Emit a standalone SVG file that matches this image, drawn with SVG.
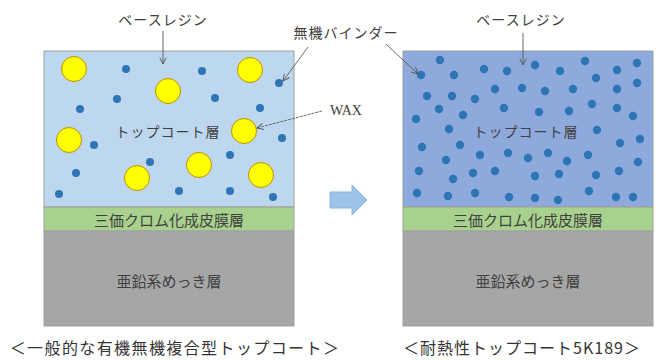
<svg xmlns="http://www.w3.org/2000/svg" width="659" height="360" viewBox="0 0 659 360">
<style>
.jp{font-family:"Noto Sans CJK JP","Noto Sans",sans-serif;fill:#404040;text-anchor:middle;dominant-baseline:central}
.lbl{font-size:14px;letter-spacing:1px}
.lay{font-size:15px}
.cap{font-size:16px;fill:#333}
.wax{font-family:"Liberation Serif",serif;font-size:14px;fill:#404040;text-anchor:middle;dominant-baseline:central}
.frame{stroke:#a0a0a0;stroke-width:1}
.bd{fill:#2E75B6}
.wx{fill:#FFFF00;stroke:#BF9000;stroke-width:1}
.ln{stroke:#595959;stroke-width:0.9;fill:none;marker-end:url(#ah)}
</style>
<defs>
<marker id="ah" viewBox="0 0 10 10" refX="9" refY="5" markerWidth="8" markerHeight="8" markerUnits="userSpaceOnUse" orient="auto">
<path d="M1,1 L9,5 L1,9" fill="none" stroke="#595959" stroke-width="1.2"/>
</marker>
</defs>
<rect width="659" height="360" fill="#fff"/>

<g id="left-stack">
<rect id="left-topcoat" class="frame" x="44" y="51" width="250" height="156" fill="#BDD7EE"/>
<rect id="left-chromate" class="frame" x="44" y="207" width="250" height="24" fill="#A9D18E"/>
<rect id="left-zinc" class="frame" x="44" y="231" width="250" height="95" fill="#A6A6A6"/>
<g id="left-wax">
<circle class="wx" cx="74" cy="69" r="12.5"/>
<circle class="wx" cx="168" cy="91" r="12.5"/>
<circle class="wx" cx="250" cy="70" r="12.5"/>
<circle class="wx" cx="69" cy="140" r="12.5"/>
<circle class="wx" cx="244" cy="131" r="12.5"/>
<circle class="wx" cx="199" cy="165" r="12.5"/>
<circle class="wx" cx="137" cy="178" r="12.5"/>
<circle class="wx" cx="261" cy="175" r="12.5"/>
</g>
<g id="left-binder">
<circle class="bd" cx="126" cy="69" r="4"/>
<circle class="bd" cx="202" cy="71" r="4"/>
<circle class="bd" cx="279" cy="83" r="4"/>
<circle class="bd" cx="117" cy="99" r="4"/>
<circle class="bd" cx="80" cy="109" r="4"/>
<circle class="bd" cx="215" cy="98" r="4"/>
<circle class="bd" cx="260" cy="108" r="4"/>
<circle class="bd" cx="94" cy="145" r="4"/>
<circle class="bd" cx="282" cy="138" r="4"/>
<circle class="bd" cx="150" cy="162" r="4"/>
<circle class="bd" cx="230" cy="155" r="4"/>
<circle class="bd" cx="76" cy="173" r="4"/>
<circle class="bd" cx="59" cy="194" r="4"/>
<circle class="bd" cx="179" cy="191" r="4"/>
<circle class="bd" cx="230" cy="191" r="4"/>
<circle class="bd" cx="273" cy="197" r="4"/>
</g>
<text class="jp lbl" x="168" y="131">トップコート層</text>
<text class="jp lay" x="169" y="219">三価クロム化成皮膜層</text>
<text class="jp lay" x="169" y="280">亜鉛系めっき層</text>
</g>

<g id="right-stack">
<rect id="right-topcoat" class="frame" x="403" y="51" width="250" height="156" fill="#8EA9DB"/>
<rect id="right-chromate" class="frame" x="403" y="207" width="250" height="24" fill="#A9D18E"/>
<rect id="right-zinc" class="frame" x="403" y="231" width="250" height="95" fill="#A6A6A6"/>
<g id="right-binder">
<circle class="bd" cx="440" cy="60" r="4.2"/>
<circle class="bd" cx="421" cy="75" r="4.2"/>
<circle class="bd" cx="454" cy="75" r="4.2"/>
<circle class="bd" cx="484" cy="69" r="4.2"/>
<circle class="bd" cx="507" cy="71" r="4.2"/>
<circle class="bd" cx="535" cy="65" r="4.2"/>
<circle class="bd" cx="560" cy="71" r="4.2"/>
<circle class="bd" cx="585" cy="61" r="4.2"/>
<circle class="bd" cx="596" cy="78" r="4.2"/>
<circle class="bd" cx="617" cy="70" r="4.2"/>
<circle class="bd" cx="637" cy="63" r="4.2"/>
<circle class="bd" cx="637" cy="83" r="4.2"/>
<circle class="bd" cx="617" cy="89" r="4.2"/>
<circle class="bd" cx="573" cy="89" r="4.2"/>
<circle class="bd" cx="545" cy="91" r="4.2"/>
<circle class="bd" cx="522" cy="88" r="4.2"/>
<circle class="bd" cx="495" cy="89" r="4.2"/>
<circle class="bd" cx="475" cy="99" r="4.2"/>
<circle class="bd" cx="452" cy="96" r="4.2"/>
<circle class="bd" cx="427" cy="96" r="4.2"/>
<circle class="bd" cx="439" cy="109" r="4.2"/>
<circle class="bd" cx="463" cy="115" r="4.2"/>
<circle class="bd" cx="416" cy="119" r="4.2"/>
<circle class="bd" cx="504" cy="108" r="4.2"/>
<circle class="bd" cx="539" cy="112" r="4.2"/>
<circle class="bd" cx="569" cy="111" r="4.2"/>
<circle class="bd" cx="592" cy="104" r="4.2"/>
<circle class="bd" cx="617" cy="108" r="4.2"/>
<circle class="bd" cx="633" cy="116" r="4.2"/>
<circle class="bd" cx="449" cy="129" r="4.2"/>
<circle class="bd" cx="597" cy="130" r="4.2"/>
<circle class="bd" cx="422" cy="147" r="4.2"/>
<circle class="bd" cx="460" cy="145" r="4.2"/>
<circle class="bd" cx="620" cy="143" r="4.2"/>
<circle class="bd" cx="640" cy="139" r="4.2"/>
<circle class="bd" cx="446" cy="160" r="4.2"/>
<circle class="bd" cx="480" cy="155" r="4.2"/>
<circle class="bd" cx="508" cy="153" r="4.2"/>
<circle class="bd" cx="528" cy="158" r="4.2"/>
<circle class="bd" cx="548" cy="153" r="4.2"/>
<circle class="bd" cx="567" cy="161" r="4.2"/>
<circle class="bd" cx="588" cy="155" r="4.2"/>
<circle class="bd" cx="638" cy="162" r="4.2"/>
<circle class="bd" cx="419" cy="171" r="4.2"/>
<circle class="bd" cx="453" cy="179" r="4.2"/>
<circle class="bd" cx="473" cy="173" r="4.2"/>
<circle class="bd" cx="495" cy="171" r="4.2"/>
<circle class="bd" cx="535" cy="176" r="4.2"/>
<circle class="bd" cx="559" cy="174" r="4.2"/>
<circle class="bd" cx="596" cy="175" r="4.2"/>
<circle class="bd" cx="619" cy="171" r="4.2"/>
<circle class="bd" cx="417" cy="193" r="4.2"/>
<circle class="bd" cx="448" cy="196" r="4.2"/>
<circle class="bd" cx="475" cy="193" r="4.2"/>
<circle class="bd" cx="509" cy="197" r="4.2"/>
<circle class="bd" cx="535" cy="198" r="4.2"/>
<circle class="bd" cx="558" cy="200" r="4.2"/>
<circle class="bd" cx="589" cy="191" r="4.2"/>
<circle class="bd" cx="616" cy="197" r="4.2"/>
<circle class="bd" cx="633" cy="197" r="4.2"/>
</g>
<text class="jp lbl" x="526" y="131">トップコート層</text>
<text class="jp lay" x="528" y="219">三価クロム化成皮膜層</text>
<text class="jp lay" x="528" y="280">亜鉛系めっき層</text>
</g>

<g id="block-arrow">
<polygon points="330,192 352,192 352,185 367,200 352,215 352,208 330,208" fill="#9DC3E6" stroke="#8AB4DF" stroke-width="1"/>
</g>

<g id="labels">
<text class="jp lbl" x="163" y="19">ベースレジン</text>
<text class="jp lbl" x="521" y="19">ベースレジン</text>
<text class="jp lbl" x="346" y="32">無機バインダー</text>
<text class="wax" x="346" y="110">WAX</text>
</g>

<g id="connectors">
<line class="ln" x1="163" y1="31" x2="163" y2="64"/>
<line class="ln" x1="523" y1="33" x2="523" y2="65"/>
<line class="ln" x1="308" y1="47" x2="283" y2="81"/>
<line class="ln" x1="386" y1="44" x2="418" y2="74"/>
<line class="ln" x1="322" y1="111" x2="257" y2="128" stroke-dasharray="3,1"/>
</g>

<g id="captions">
<text class="jp cap" x="175" y="347" letter-spacing="1.4">＜一般的な有機無機複合型トップコート＞</text>
<text class="jp cap" x="522" y="347" letter-spacing="1">＜耐熱性トップコート5K189＞</text>
</g>
</svg>
